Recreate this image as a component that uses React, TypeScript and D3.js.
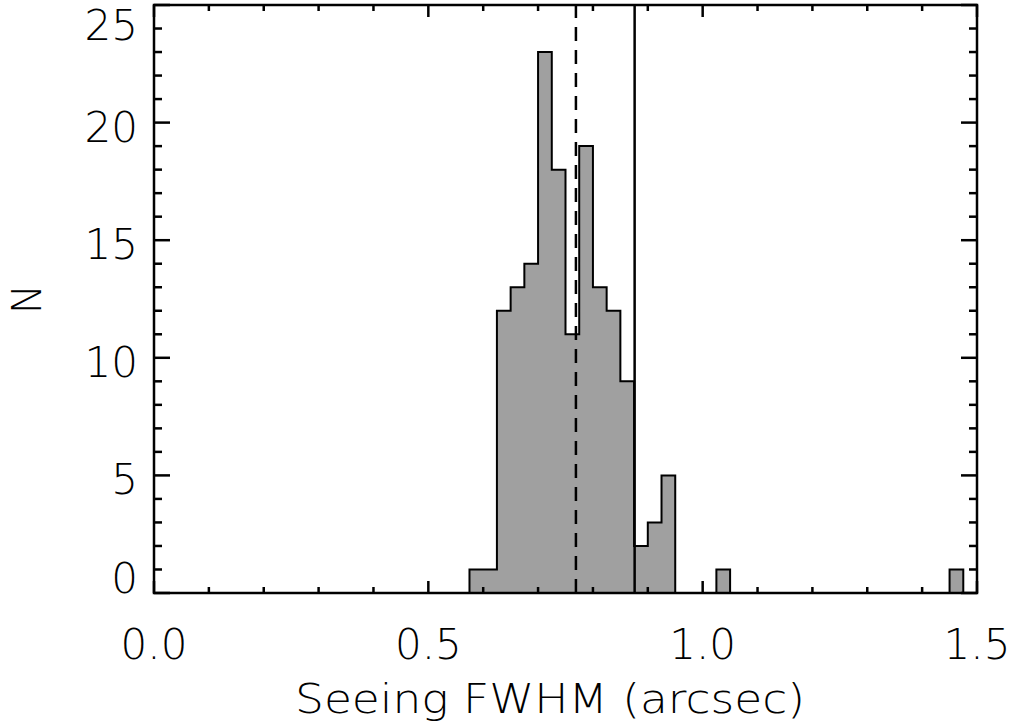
import React, { useEffect, useRef } from "react";
import * as d3 from "d3";

// Seeing FWHM histogram, IDL-style plot.
const binWidth = 0.025;
const binStarts = [0.575, 0.6, 0.625, 0.65, 0.675, 0.7, 0.725, 0.75, 0.775, 0.8, 0.825, 0.85, 0.875, 0.9, 0.925, 1.025, 1.45];
const binCounts = [1, 1, 12, 13, 14, 23, 18, 11, 19, 13, 12, 9, 2, 3, 5, 1, 1];
const medianSeeing = 0.769; // dashed line
const cutSeeing = 0.876; // solid line
const xMajorTicks = [0, 0.5, 1.0, 1.5];
const xTickLabels = ["0.0", "0.5", "1.0", "1.5"];
const yMajorTicks = [0, 5, 10, 15, 20, 25];
const yTickLabels = ["0", "5", "10", "15", "20", "25"];
const xTitle = "Seeing FWHM (arcsec)";
const yTitle = "N";

const FONT = "'DejaVu Sans', sans-serif";

export default function App() {
  const ref = useRef<SVGSVGElement>(null);

  useEffect(() => {
    const width = 1014;
    const height = 727;
    const svg = d3.select(ref.current);
    svg.selectAll("*").remove();
    svg.attr("width", width).attr("height", height);

    const left = 154, right = 977, top = 5, bottom = 593;
    const x = d3.scaleLinear().domain([0, 1.5]).range([left, right]);
    const y = d3.scaleLinear().domain([0, 25]).range([bottom, top]);

    // histogram as a single step outline, filled
    const p = d3.path();
    let prevEnd = binStarts[0];
    p.moveTo(x(binStarts[0]), y(0));
    binStarts.forEach((s, i) => {
      if (s > prevEnd + 1e-6) {
        p.lineTo(x(prevEnd), y(0));
        p.lineTo(x(s), y(0));
      }
      p.lineTo(x(s), y(binCounts[i]));
      p.lineTo(x(s + binWidth), y(binCounts[i]));
      prevEnd = s + binWidth;
    });
    p.lineTo(x(prevEnd), y(0));
    svg.append("path").attr("d", p.toString())
      .attr("fill", "#a0a0a0").attr("stroke", "#000").attr("stroke-width", 2)
      .attr("stroke-linejoin", "miter");

    // reference lines
    svg.append("line").attr("x1", x(medianSeeing)).attr("x2", x(medianSeeing))
      .attr("y1", y(0)).attr("y2", y(25))
      .attr("stroke", "#000").attr("stroke-width", 2.5).attr("stroke-dasharray", "14 9");
    svg.append("line").attr("x1", x(cutSeeing)).attr("x2", x(cutSeeing))
      .attr("y1", y(0)).attr("y2", y(25))
      .attr("stroke", "#000").attr("stroke-width", 2.5);

    // frame
    svg.append("rect").attr("x", left).attr("y", top).attr("width", right - left).attr("height", bottom - top)
      .attr("fill", "none").attr("stroke", "#000").attr("stroke-width", 2.5);

    const ticks = svg.append("g").attr("stroke", "#000").attr("stroke-width", 2.5);
    const xMinor = d3.range(0, 1.5001, 0.1);
    const yMinor = d3.range(0, 25.001, 1);
    const xLen = (v: number) => (xMajorTicks.some((t) => Math.abs(t - v) < 1e-6) ? 12 : 6);
    const yLen = (v: number) => (yMajorTicks.some((t) => Math.abs(t - v) < 1e-6) ? 16 : 8);

    xMinor.forEach((v) => {
      ticks.append("line").attr("x1", x(v)).attr("x2", x(v)).attr("y1", bottom).attr("y2", bottom - xLen(v));
      ticks.append("line").attr("x1", x(v)).attr("x2", x(v)).attr("y1", top).attr("y2", top + xLen(v));
    });
    yMinor.forEach((v) => {
      ticks.append("line").attr("x1", left).attr("x2", left + yLen(v)).attr("y1", y(v)).attr("y2", y(v));
      ticks.append("line").attr("x1", right).attr("x2", right - yLen(v)).attr("y1", y(v)).attr("y2", y(v));
    });

    const txt = svg.append("g").attr("font-family", FONT).attr("font-weight", 200).attr("fill", "#000");
    xMajorTicks.forEach((v, i) => {
      txt.append("text").attr("x", x(v)).attr("y", 659).attr("text-anchor", "middle")
        .attr("font-size", 42).text(xTickLabels[i]);
    });
    // end labels are kept inside the axis span, as IDL does
    yMajorTicks.forEach((v, i) => {
      const base = Math.min(bottom, Math.max(top + 35, y(v) + 19));
      txt.append("text").attr("x", 138).attr("y", base).attr("text-anchor", "end")
        .attr("font-size", 42).text(yTickLabels[i]);
    });
    txt.append("text").attr("x", 295).attr("y", 713).attr("font-size", 40)
      .attr("textLength", 510).attr("lengthAdjust", "spacingAndGlyphs").text(xTitle);
    txt.append("text").attr("transform", `translate(41,${(top + bottom) / 2}) rotate(-90)`)
      .attr("text-anchor", "middle").attr("font-size", 40).text(yTitle);
  }, []);

  return (
    <svg ref={ref} style={{ position: "absolute", left: 0, top: 0, background: "#fff" }} />
  );
}
